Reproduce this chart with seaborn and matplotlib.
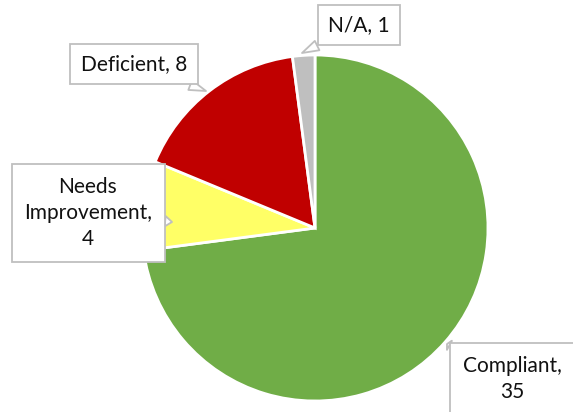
import matplotlib
matplotlib.use("Agg")
import matplotlib.pyplot as plt
import seaborn as sns

categories = ["Compliant", "Needs Improvement", "Deficient", "N/A"]
values = [35, 4, 8, 1]
label_texts = ["Compliant,\n35", "Needs\nImprovement,\n4", "Deficient, 8", "N/A, 1"]
colors = ["#70AD47", "#FFFF66", "#C00000", "#BFBFBF"]

sns.set_theme(style="white")
plt.rcParams["font.family"] = ["Lato", "DejaVu Sans"]

fig = plt.figure(figsize=(5.73, 4.12), dpi=100)
ax = fig.add_axes([142 / 573, 11 / 412, 346 / 573, 346 / 412])
wedges, _ = ax.pie(values, colors=colors, startangle=90, counterclock=False,
                   wedgeprops=dict(edgecolor="white", linewidth=2))
ax.set_xlim(-1, 1)
ax.set_ylim(-1, 1)
ax.set_aspect("equal")
ax.axis("off")


def px(x, y):
    return ((x - 315) / 173, (228 - y) / 173)

# (text position in pixels, pointer target in pixels, box pad)
placements = {
    "Compliant": ((512, 379), (447, 344), 0.6),
    "Needs Improvement": ((88, 213), (172, 222), 0.6),
    "Deficient": ((134, 64), (206, 91), 0.5),
    "N/A": ((359, 25), (302, 53), 0.5),
}

for cat, txt in zip(categories, label_texts):
    (tx, ty), (ax_, ay_), pad = placements[cat]
    ax.annotate(txt, xy=px(ax_, ay_), xytext=px(tx, ty),
                ha="center", va="center", fontsize=15, color="#111111",
                linespacing=1.4, annotation_clip=False,
                bbox=dict(boxstyle=f"square,pad={pad}", fc="white", ec="#BFBFBF", lw=1.3),
                arrowprops=dict(arrowstyle="wedge,tail_width=0.5,shrink_factor=0.5",
                                fc="white", ec="#BFBFBF", lw=1.3,
                                shrinkA=0, shrinkB=0))

fig.savefig("out.png", dpi=100)
